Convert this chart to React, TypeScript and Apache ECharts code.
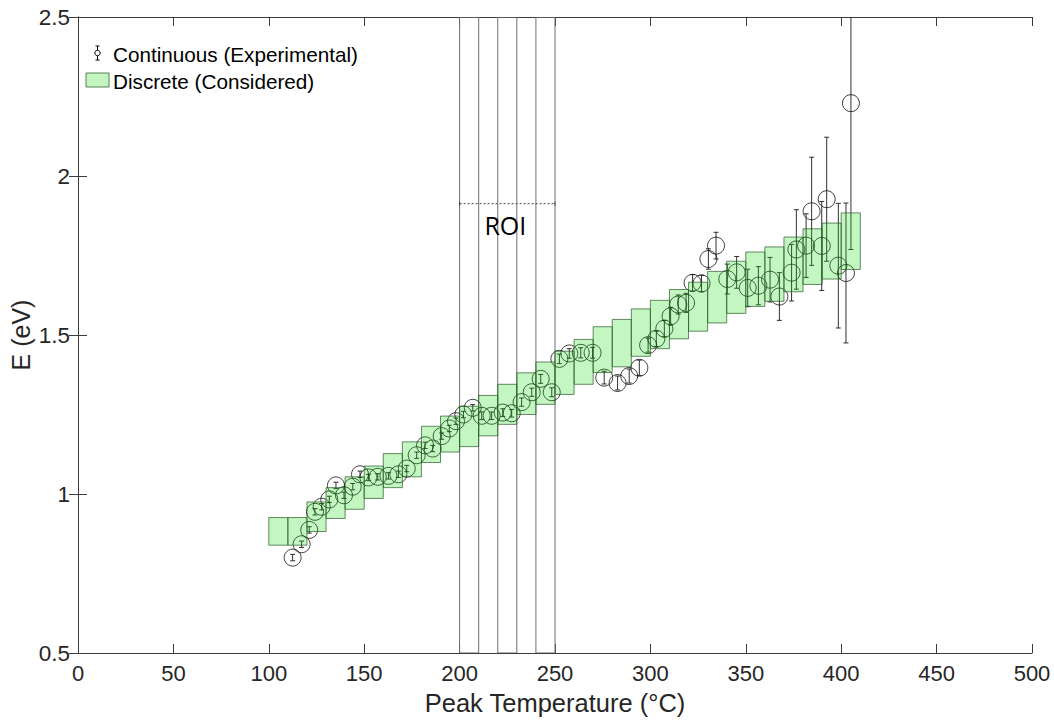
import React, { useEffect, useRef } from "react";
import * as echarts from "echarts";

// Discrete (Considered) bins: start temperature, lower and upper E
const binStarts = [100, 110, 120, 130, 140, 150, 160, 170, 180, 190, 200, 210, 220, 230, 240, 250, 260, 270, 280, 290, 300, 310, 320, 330, 340, 350, 360, 370, 380, 390, 400];
const binWidth = 10;
const binLow = [0.839, 0.839, 0.882, 0.923, 0.952, 0.986, 1.020, 1.054, 1.099, 1.132, 1.149, 1.183, 1.219, 1.250, 1.282, 1.313, 1.345, 1.382, 1.400, 1.433, 1.457, 1.488, 1.512, 1.538, 1.568, 1.590, 1.606, 1.636, 1.659, 1.676, 1.706];
const binHigh = [0.926, 0.926, 0.975, 1.020, 1.054, 1.088, 1.127, 1.164, 1.213, 1.245, 1.276, 1.310, 1.345, 1.381, 1.415, 1.449, 1.486, 1.526, 1.549, 1.582, 1.609, 1.643, 1.666, 1.700, 1.732, 1.761, 1.777, 1.808, 1.834, 1.852, 1.884];

// Continuous (Experimental) points: peak temperature, E, error
const expT = [112.5, 117.2, 121.2, 124.2, 127.7, 131.7, 135.2, 139.4, 144.0, 147.8, 152.2, 157.1, 162.7, 167.9, 172.3, 177.5, 181.9, 185.9, 190.6, 194.6, 198.1, 202.0, 206.9, 211.6, 216.8, 222.6, 227.3, 232.5, 237.8, 242.5, 248.3, 252.3, 257.5, 263.5, 269.7, 275.8, 282.8, 288.9, 294.2, 298.8, 303.1, 307.3, 310.6, 314.6, 318.7, 322.1, 326.8, 330.4, 334.4, 340.3, 345.2, 351.0, 356.6, 362.7, 367.6, 374.0, 376.5, 381.6, 384.5, 389.8, 392.4, 398.5, 402.5, 405.1];
const expE = [0.800, 0.842, 0.887, 0.944, 0.960, 0.983, 1.027, 0.996, 1.023, 1.062, 1.052, 1.054, 1.057, 1.062, 1.080, 1.122, 1.153, 1.143, 1.182, 1.206, 1.229, 1.250, 1.271, 1.246, 1.246, 1.256, 1.254, 1.289, 1.320, 1.362, 1.320, 1.425, 1.442, 1.444, 1.444, 1.366, 1.349, 1.371, 1.397, 1.468, 1.488, 1.520, 1.559, 1.596, 1.601, 1.664, 1.662, 1.739, 1.781, 1.676, 1.697, 1.648, 1.655, 1.674, 1.621, 1.696, 1.769, 1.781, 1.889, 1.780, 1.927, 1.718, 1.695, 2.229];
const expErr = [0.010, 0.010, 0.010, 0.010, 0.010, 0.010, 0.010, 0.010, 0.010, 0.010, 0.010, 0.010, 0.010, 0.010, 0.010, 0.010, 0.010, 0.010, 0.010, 0.010, 0.010, 0.010, 0.010, 0.012, 0.012, 0.012, 0.012, 0.013, 0.013, 0.014, 0.014, 0.015, 0.015, 0.016, 0.017, 0.020, 0.022, 0.022, 0.024, 0.022, 0.024, 0.026, 0.028, 0.030, 0.030, 0.026, 0.026, 0.032, 0.042, 0.047, 0.050, 0.059, 0.060, 0.070, 0.075, 0.089, 0.125, 0.100, 0.170, 0.140, 0.195, 0.196, 0.220, 0.460];

// Region of interest
const roiStarts = [200, 220, 240];
const roiWidth = 10;
const roiSpan = [200, 250];
const roiLevel = 1.913;

const xTicks = { min: 0, max: 500, interval: 50 };
const yTicks = { min: 0.5, max: 2.5, interval: 0.5 };

const FONT = "'Liberation Sans', Arial, Helvetica, sans-serif";
const TXT = "#262626";
const AX = "#3a3a3a";

export default function App() {
  const ref = useRef<HTMLDivElement>(null);
  useEffect(() => {
    if (!ref.current) return;
    const chart = echarts.init(ref.current, undefined, { renderer: "svg" });

    const axisCommon = {
      axisLine: { show: true, lineStyle: { color: AX, width: 1 } },
      axisTick: { show: true, inside: true, length: 9, lineStyle: { color: AX, width: 1 } },
      splitLine: { show: false },
    };

    const option: any = {
      animation: false,
      backgroundColor: "#ffffff",
      grid: { left: 78, right: 22, top: 17, bottom: 67, containLabel: false, outerBoundsMode: "none" },
      xAxis: [
        {
          type: "value",
          ...xTicks,
          position: "bottom",
          ...axisCommon,
          axisLabel: { color: TXT, fontSize: 22, fontFamily: FONT, margin: 9 },
          name: "Peak Temperature (°C)",
          nameLocation: "middle",
          nameGap: 37,
          nameMoveOverlap: false,
          nameTextStyle: { color: TXT, fontSize: 25.5, fontFamily: FONT },
        },
        {
          type: "value",
          ...xTicks,
          position: "top",
          ...axisCommon,
          axisLabel: { show: false },
        },
      ],
      yAxis: [
        {
          type: "value",
          ...yTicks,
          position: "left",
          ...axisCommon,
          axisLabel: { color: TXT, fontSize: 22.5, fontFamily: FONT, margin: 8 },
          name: "E (eV)",
          nameLocation: "middle",
          nameGap: 45,
          nameMoveOverlap: false,
          nameTextStyle: { color: TXT, fontSize: 25, fontFamily: FONT },
        },
        {
          type: "value",
          ...yTicks,
          position: "right",
          ...axisCommon,
          axisLabel: { show: false },
        },
      ],
      graphic: [
        { type: "line", z: 10, shape: { x1: 97.5, y1: 46, x2: 97.5, y2: 60 }, style: { stroke: "#000", lineWidth: 1 } },
        { type: "line", z: 10, shape: { x1: 95.5, y1: 46, x2: 99.5, y2: 46 }, style: { stroke: "#000", lineWidth: 1 } },
        { type: "line", z: 10, shape: { x1: 95.5, y1: 60, x2: 99.5, y2: 60 }, style: { stroke: "#000", lineWidth: 1 } },
        { type: "circle", z: 11, shape: { cx: 97.5, cy: 53, r: 2.7 }, style: { fill: "#fff", stroke: "#000", lineWidth: 1 } },
        {
          type: "text",
          z: 10,
          x: 113,
          y: 54,
          style: { text: "Continuous (Experimental)", font: `20.7px ${FONT}`, fill: "#000", verticalAlign: "middle", align: "left" },
        },
        { type: "rect", z: 10, shape: { x: 86, y: 73, width: 23, height: 14 }, style: { fill: "rgba(20,220,10,0.25)", stroke: "rgba(40,90,40,0.75)", lineWidth: 1 } },
        {
          type: "text",
          z: 10,
          x: 113,
          y: 81,
          style: { text: "Discrete (Considered)", font: `20.7px ${FONT}`, fill: "#000", verticalAlign: "middle", align: "left" },
        },
      ],
      series: [
        {
          name: "ROI",
          type: "custom",
          z: 1,
          clip: true,
          data: roiStarts.map((s) => [s, s + roiWidth]),
          encode: { x: [0, 1] },
          renderItem: (params: any, api: any) => {
            const p1 = api.coord([api.value(0), yTicks.max]);
            const p2 = api.coord([api.value(1), yTicks.min]);
            return {
              type: "rect",
              shape: { x: p1[0], y: p1[1], width: p2[0] - p1[0], height: p2[1] - p1[1] },
              style: { fill: "none", stroke: "#6e6e6e", lineWidth: 1 },
            };
          },
        },
        {
          name: "ROI marker",
          type: "custom",
          z: 5,
          data: [[roiSpan[0], roiSpan[1], roiLevel]],
          encode: { x: [0, 1], y: 2 },
          renderItem: (params: any, api: any) => {
            const a = api.coord([api.value(0), api.value(2)]);
            const b = api.coord([api.value(1), api.value(2)]);
            return {
              type: "group",
              children: [
                { type: "line", shape: { x1: a[0], y1: a[1], x2: b[0], y2: b[1] }, style: { stroke: "#444", lineWidth: 1, lineDash: [2, 2] } },
                { type: "line", shape: { x1: a[0], y1: a[1] - 2, x2: a[0], y2: a[1] + 2 }, style: { stroke: "#444", lineWidth: 1 } },
                { type: "line", shape: { x1: b[0], y1: b[1] - 2, x2: b[0], y2: b[1] + 2 }, style: { stroke: "#444", lineWidth: 1 } },
                {
                  type: "text",
                  x: (a[0] + b[0]) / 2 - 2,
                  y: a[1] + 21,
                  style: { text: "ROI", font: `25px 'Open Sans', 'DejaVu Sans', sans-serif`, fill: "#000", align: "center", verticalAlign: "middle" },
                },
              ],
            };
          },
        },
        {
          name: "Continuous (Experimental) error",
          type: "custom",
          z: 2,
          clip: true,
          data: expT.map((t, i) => [t, expE[i] - expErr[i], expE[i] + expErr[i]]),
          encode: { x: 0, y: [1, 2] },
          renderItem: (params: any, api: any) => {
            const lo = api.coord([api.value(0), api.value(1)]);
            const hi = api.coord([api.value(0), api.value(2)]);
            const c = 2.5;
            const st = { stroke: "#1a1a1a", lineWidth: 0.9 };
            return {
              type: "group",
              children: [
                { type: "line", shape: { x1: lo[0], y1: lo[1], x2: hi[0], y2: hi[1] }, style: st },
                { type: "line", shape: { x1: lo[0] - c, y1: lo[1], x2: lo[0] + c, y2: lo[1] }, style: st },
                { type: "line", shape: { x1: hi[0] - c, y1: hi[1], x2: hi[0] + c, y2: hi[1] }, style: st },
              ],
            };
          },
        },
        {
          name: "Continuous (Experimental)",
          type: "scatter",
          z: 2,
          symbol: "circle",
          symbolSize: 17,
          data: expT.map((t, i) => [t, expE[i]]),
          itemStyle: { color: "rgba(255,255,255,0)", borderColor: "#111", borderWidth: 1 },
        },
        {
          name: "Discrete (Considered)",
          type: "custom",
          z: 3,
          data: binStarts.map((s, i) => [s, s + binWidth, binLow[i], binHigh[i]]),
          encode: { x: [0, 1], y: [2, 3] },
          renderItem: (params: any, api: any) => {
            const p1 = api.coord([api.value(0), api.value(3)]);
            const p2 = api.coord([api.value(1), api.value(2)]);
            return {
              type: "rect",
              shape: { x: p1[0], y: p1[1], width: p2[0] - p1[0], height: p2[1] - p1[1] },
              style: { fill: "rgba(20,220,10,0.25)", stroke: "rgba(40,90,40,0.7)", lineWidth: 1 },
            };
          },
        },
      ],
    };

    chart.setOption(option);
    return () => chart.dispose();
  }, []);

  return <div ref={ref} style={{ position: "absolute", left: 0, top: 0, width: 1054, height: 720 }} />;
}
